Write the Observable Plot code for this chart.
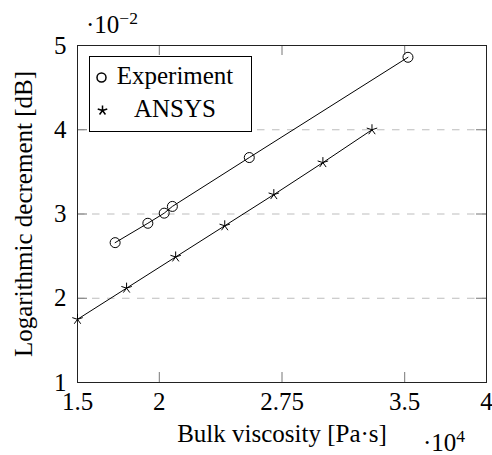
<!DOCTYPE html>
<html>
<head>
<meta charset="utf-8">
<script src="https://cdn.jsdelivr.net/npm/d3@7"></script>
<script src="https://cdn.jsdelivr.net/npm/@observablehq/plot@0.6"></script>
<style>
  html, body { margin: 0; padding: 0; background: white; }
</style>
</head>
<body>
<div id="chart"></div>
<script>
// Data (x in units of 10^4 Pa·s, y in units of 10^-2 dB)
const series = ["Experiment", "ANSYS"];
const expX = [1.73, 1.93, 2.03, 2.08, 2.55, 3.52];
const expY = [2.66, 2.89, 3.01, 3.09, 3.67, 4.86];
const ansysX = [1.5, 1.8, 2.1, 2.4, 2.7, 3.0, 3.3];
const ansysY = [1.75, 2.12, 2.49, 2.86, 3.23, 3.61, 4.0];
const xTicks = [1.5, 2, 2.75, 3.5, 4];
const yTicks = [1, 2, 3, 4, 5];
const gridY = [2, 3, 4];
const xLabel = "Bulk viscosity [Pa·s]";
const yLabel = "Logarithmic decrement [dB]";

const expData = expX.map((x, i) => ({x, y: expY[i]}));
const ansysData = ansysX.map((x, i) => ({x, y: ansysY[i]}));

const star5 = {
  draw(ctx, size) {
    const r = Math.sqrt(size / Math.PI);
    for (let k = 0; k < 5; k++) {
      const a = -Math.PI / 2 + k * 2 * Math.PI / 5;
      ctx.moveTo(0, 0);
      ctx.lineTo(r * Math.cos(a), r * Math.sin(a));
    }
  }
};

const W = 492, H = 455, ML = 77, MR = 6, MT = 45, MB = 73;
const PW = W - ML - MR, PH = H - MT - MB;
const font = "Liberation Serif";

const chart = Plot.plot({
  width: W, height: H,
  marginLeft: ML, marginRight: MR, marginTop: MT, marginBottom: MB,
  x: {domain: [1.5, 4]},
  y: {domain: [1, 5]},
  style: {fontFamily: font, fontSize: "25px", background: "white", color: "black"},
  marks: [
    Plot.ruleY(gridY, {y: d => d, stroke: "#bdbdbd", strokeDasharray: "7.5,7.5", strokeWidth: 1}),
    Plot.tickX(xTicks, {x: d => d, stroke: "#777", insetTop: PH - 10}),
    Plot.tickX(xTicks, {x: d => d, stroke: "#777", insetBottom: PH - 10}),
    Plot.tickY(yTicks, {y: d => d, stroke: "#777", insetRight: PW - 10}),
    Plot.tickY(yTicks, {y: d => d, stroke: "#777", insetLeft: PW - 10}),
    Plot.frame({stroke: "#222", strokeWidth: 1}),
    Plot.axisX({ticks: xTicks, tickSize: 0, tickPadding: 10, label: null, tickFormat: d => String(d), fontSize: 25}),
    Plot.axisY({ticks: yTicks, tickSize: 0, tickPadding: 11, label: null, tickFormat: d => String(d), fontSize: 25}),
    Plot.line(expData, {x: "x", y: "y", stroke: "black", strokeWidth: 1}),
    Plot.dot(expData, {x: "x", y: "y", r: 5, stroke: "black", fill: "none", strokeWidth: 1}),
    Plot.line(ansysData, {x: "x", y: "y", stroke: "black", strokeWidth: 1}),
    Plot.dot(ansysData, {x: "x", y: "y", r: 5.5, symbol: star5, stroke: "black", fill: "none", strokeWidth: 1}),
    // legend
    Plot.frame({fill: "white", stroke: "black", strokeWidth: 1, insetLeft: 12, insetTop: 11, insetRight: 235, insetBottom: 251}),
    Plot.dot([series[0]], {frameAnchor: "top-left", dx: 24, dy: 32, r: 4.5, stroke: "black", fill: "none"}),
    Plot.dot([series[1]], {frameAnchor: "top-left", dx: 25, dy: 65, r: 5, symbol: star5, stroke: "black", fill: "none"}),
    Plot.text([series[0]], {text: d => d, frameAnchor: "top-left", dx: 97.5, dy: 30, textAnchor: "middle", lineAnchor: "middle", fontSize: 25}),
    Plot.text([series[1]], {text: d => d, frameAnchor: "top-left", dx: 97.5, dy: 63, textAnchor: "middle", lineAnchor: "middle", fontSize: 25}),
    // axis labels
    Plot.text([xLabel], {text: d => d, frameAnchor: "bottom", dy: 51, textAnchor: "middle", lineAnchor: "middle", fontSize: 25}),
    Plot.text([yLabel], {text: d => d, frameAnchor: "left", dx: -54, rotate: -90, textAnchor: "middle", lineAnchor: "middle", fontSize: 25})
  ]
});

const svg = d3.select(chart);
function expo(x, y, base, sup) {
  const t = svg.append("text")
    .attr("x", x).attr("y", y)
    .attr("text-anchor", "start")
    .attr("font-family", font).attr("font-size", 25).attr("fill", "black");
  t.append("tspan").text(base);
  t.append("tspan").attr("dy", -9).attr("font-size", 17.5).text(sup);
}
expo(86, 33, "·10", "−2");
expo(423, 451, "·10", "4");

document.getElementById("chart").appendChild(chart);
</script>
</body>
</html>
